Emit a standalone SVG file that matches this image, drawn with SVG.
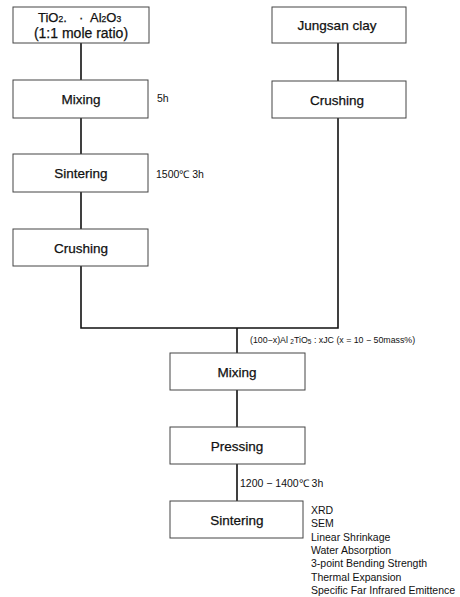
<svg xmlns="http://www.w3.org/2000/svg" width="460" height="597" viewBox="0 0 460 597">
<style>
.box{fill:#fff;stroke:#444;stroke-width:1}
.lbl{font-family:"Liberation Sans",Arial,sans-serif;font-size:13.5px;fill:#111;text-anchor:middle;dominant-baseline:central;stroke:#111;stroke-width:0.25}
.ann{font-family:"Liberation Sans",Arial,sans-serif;font-size:10.5px;fill:#111;dominant-baseline:central}
.con{fill:none;stroke:#111;stroke-width:1.6}
</style>
<rect width="460" height="597" fill="#fff"/>
<g id="connectors">
<path class="con" d="M81 43V80M81 118V154M81 192V229M81 266V328H338V118M338 43V81M237 328V353M237 390V427M237 464V501"/>
</g>
<g id="n-raw">
<rect class="box" x="13" y="7" width="136" height="36"/>
<text class="lbl" x="38" y="17" style="text-anchor:start;font-size:13px">TiO<tspan font-size="8.5" dy="2">2</tspan><tspan dy="-2">.</tspan><tspan x="79">·</tspan><tspan x="90">Al</tspan><tspan font-size="8.5" dy="2">2</tspan><tspan dy="-2">O</tspan><tspan font-size="8.5" dy="2">3</tspan></text>
<text class="lbl" x="81" y="33" style="font-size:14px">(1:1 mole ratio)</text>
</g>
<g id="n-mix1">
<rect class="box" x="13" y="80" width="135" height="38"/>
<text class="lbl" x="81" y="99">Mixing</text>
<text class="ann" x="157" y="98">5h</text>
</g>
<g id="n-sint1">
<rect class="box" x="13" y="154" width="135" height="38"/>
<text class="lbl" x="81" y="173">Sintering</text>
<text class="ann" x="156" y="174">1500℃ 3h</text>
</g>
<g id="n-crush1">
<rect class="box" x="13" y="229" width="135" height="37"/>
<text class="lbl" x="81" y="248">Crushing</text>
</g>
<g id="n-clay">
<rect class="box" x="272" y="7" width="134" height="36"/>
<text class="lbl" x="337" y="25">Jungsan clay</text>
</g>
<g id="n-crush2">
<rect class="box" x="272" y="81" width="134" height="37"/>
<text class="lbl" x="337" y="100">Crushing</text>
</g>
<g id="n-mix2">
<rect class="box" x="170" y="353" width="135" height="37"/>
<text class="lbl" x="237" y="372">Mixing</text>
<text class="ann" x="250" y="340" style="font-size:8.8px">(100−x)Al <tspan font-size="6.5" dy="1">2</tspan><tspan dy="-1">TiO</tspan><tspan font-size="6.5" dy="1">5</tspan><tspan dy="-1"> : xJC  (x = 10 − 50mass%)</tspan></text>
</g>
<g id="n-press">
<rect class="box" x="170" y="427" width="135" height="37"/>
<text class="lbl" x="237" y="446">Pressing</text>
<text class="ann" x="240" y="483">1200 − 1400℃ 3h</text>
</g>
<g id="n-sint2">
<rect class="box" x="170" y="501" width="133" height="37"/>
<text class="lbl" x="237" y="520">Sintering</text>
<text class="ann" x="311" y="510">XRD</text>
<text class="ann" x="311" y="523">SEM</text>
<text class="ann" x="311" y="537">Linear Shrinkage</text>
<text class="ann" x="311" y="550">Water Absorption</text>
<text class="ann" x="311" y="563">3-point Bending Strength</text>
<text class="ann" x="311" y="577">Thermal Expansion</text>
<text class="ann" x="311" y="590">Specific Far Infrared Emittence</text>
</g>
</svg>
